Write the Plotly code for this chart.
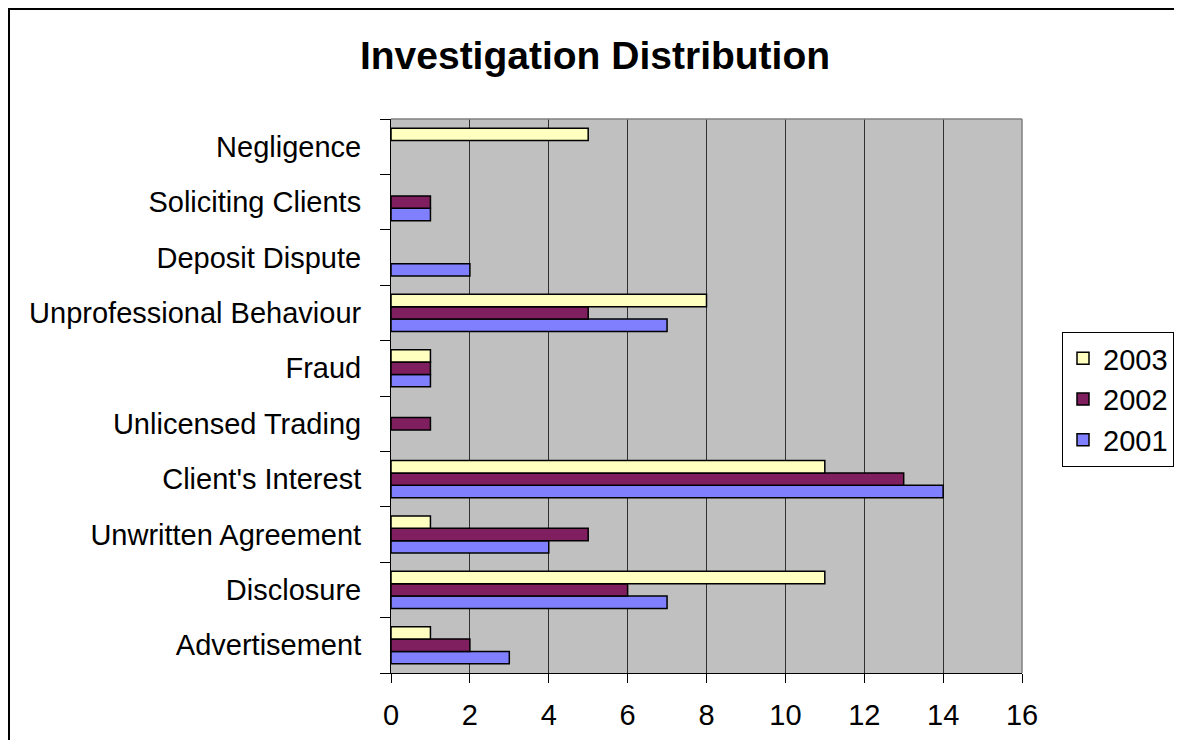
import plotly.graph_objects as go

categories = ["Advertisement", "Disclosure", "Unwritten Agreement", "Client's Interest",
              "Unlicensed Trading", "Fraud", "Unprofessional Behaviour", "Deposit Dispute",
              "Soliciting Clients", "Negligence"]
v2001 = [3, 7, 4, 14, None, 1, 7, 2, 1, None]
v2002 = [2, 6, 5, 13, 1, 1, 5, None, 1, None]
v2003 = [1, 11, 1, 11, None, 1, 8, None, None, 5]
x_ticks = [0, 2, 4, 6, 8, 10, 12, 14, 16]

FONT = "Liberation Sans, Arial, sans-serif"
OFF = 8  # page body margin
W, H = 1182 - OFF, 748 - 2 * OFF
L, R, T, B = 391 - OFF, 1022 - OFF, 119 - OFF, 673 - OFF

fig = go.Figure()
series = [("2001", v2001, "#8080FF"), ("2002", v2002, "#7F1F5F"), ("2003", v2003, "#FFFFC0")]
for name, vals, col in series:
    fig.add_trace(go.Bar(
        y=categories, x=vals, name=name, orientation="h",
        marker=dict(color=col, line=dict(color="black", width=1.5)),
    ))

pw = R - L
ph = B - T

def px2x(px):
    return (px - OFF - L) / pw

def py2y(py):
    return (B - (py - OFF)) / ph

def fx(fpx):
    return (fpx - L) / pw

def fy(fpy):
    return (B - fpy) / ph

fig.update_layout(
    width=W, height=H,
    margin=dict(l=L, r=W - R, t=T, b=H - B, autoexpand=False),
    paper_bgcolor="white",
    plot_bgcolor="#C0C0C0",
    barmode="group",
    bargap=0.33,
    bargroupgap=0,
    font=dict(family=FONT, size=29, color="black"),
    title=dict(text="<b>Investigation Distribution</b>", font=dict(family=FONT, size=39, color="black"),
               x=(595 - OFF) / W, xref="container", xanchor="center",
               y=1 - (55 - OFF) / H, yref="container", yanchor="middle"),
    legend=dict(x=px2x(1062), y=py2y(332), xanchor="left", yanchor="top",
                traceorder="reversed", bordercolor="black", borderwidth=1,
                bgcolor="white", font=dict(family=FONT, size=29, color="black"),
                itemwidth=30, tracegroupgap=0),
    xaxis=dict(range=[0, 16], tickvals=x_ticks, showgrid=True, gridcolor="#303030", gridwidth=1.2,
               showline=True, linecolor="black", linewidth=1, ticks="outside", ticklen=9,
               tickcolor="black", zeroline=False, ticklabelstandoff=7,
               tickfont=dict(family=FONT, size=29, color="black"), fixedrange=True),
    yaxis=dict(categoryorder="array", categoryarray=categories, showline=True, linecolor="black",
               linewidth=1, ticks="outside", ticklen=10, tickcolor="black", tickson="boundaries",
               showgrid=False, ticklabelstandoff=23,
               tickfont=dict(family=FONT, size=29, color="black"), fixedrange=True),
    shapes=[
        dict(type="line", xref="paper", yref="paper", x0=0, x1=1, y0=1, y1=1,
             line=dict(color="#808080", width=1.5)),
        dict(type="line", xref="paper", yref="paper", x0=1, x1=1, y0=0, y1=1,
             line=dict(color="#808080", width=1.5)),
        dict(type="rect", xref="paper", yref="paper", x0=fx(1), x1=fx(W + 20),
             y0=fy(H + 20), y1=fy(1), line=dict(color="black", width=2), layer="above"),
    ],
)

fig.write_html("out.html", config={"displayModeBar": False})
